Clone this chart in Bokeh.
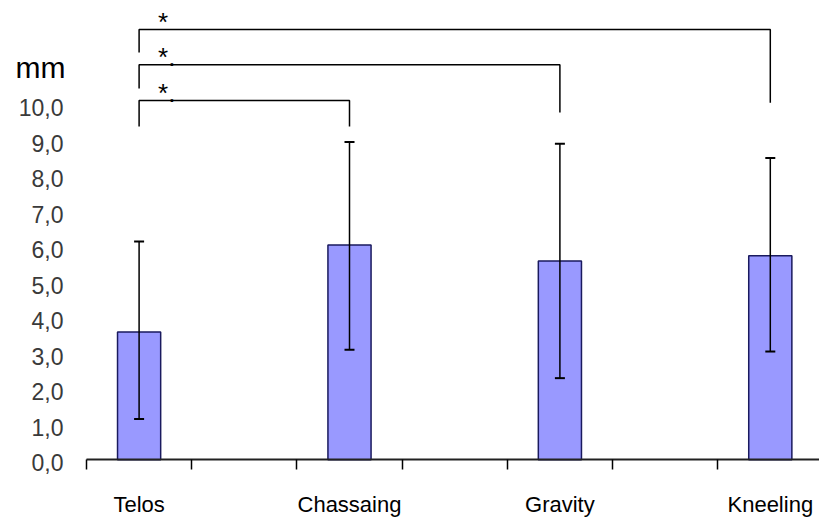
from bokeh.plotting import figure
from bokeh.models import Range1d, FixedTicker, LinearAxis, ColumnDataSource, Whisker, TeeHead
from bokeh.core.properties import value
from bokeh.embed import file_html
from bokeh.resources import INLINE

# ---- data ----
categories = ["Telos", "Chassaing", "Gravity", "Kneeling"]
means = [3.6, 6.05, 5.6, 5.75]
err_upper = [6.15, 8.95, 8.9, 8.5]
err_lower = [1.15, 3.1, 2.3, 3.05]

y_ticks = [0, 1, 2, 3, 4, 5, 6, 7, 8, 9, 10]
y_tick_labels = ["0,0", "1,0", "2,0", "3,0", "4,0", "5,0", "6,0", "7,0", "8,0", "9,0", "10,0"]

bracket_from = [0, 0, 0]
bracket_to = [3, 2, 1]
bracket_top = [12.12, 11.13, 10.12]
bracket_left_end = [11.47, 10.46, 9.39]
bracket_right_end = [10.06, 9.78, 9.39]
bracket_marks = ["*", "*.", "*."]
unit_label = "mm"
unit_label_y = 11.05

FONT = "Liberation Sans"

# ---- layout geometry (pixels) ----
W, H = 819, 523
AXIS_LEFT_PX = 86          # where the category axis starts
PX_PER_SLOT = 105.2
ZERO_PX = 459.3            # vertical position of value 0
PX_PER_UNIT = 35.5

# slot layout: each category occupies every other slot
xs = [2 * i for i in range(len(categories))]
slot_edges = [k - 0.5 for k in range(2 * len(categories))]
x_start = -0.5 - AXIS_LEFT_PX / PX_PER_SLOT
x_end = x_start + W / PX_PER_SLOT
y_end = ZERO_PX / PX_PER_UNIT
y_start = y_end - H / PX_PER_UNIT

p = figure(width=W, height=H,
           x_range=Range1d(x_start, x_end), y_range=Range1d(y_start, y_end),
           x_axis_type=None, y_axis_type=None,
           output_backend="svg", toolbar_location=None,
           min_border_left=0, min_border_right=0,
           min_border_top=0, min_border_bottom=0)
p.outline_line_color = None
p.grid.visible = False
p.background_fill_color = "white"
p.border_fill_color = "white"

# bars
src = ColumnDataSource(dict(x=xs, top=means, upper=err_upper, lower=err_lower))
p.vbar(x="x", top="top", bottom=0, width=0.41, source=src,
       fill_color="#9999FF", line_color="#1a1a5e", line_width=1.5)

# error bars (drawn over the bars)
w = Whisker(base="x", upper="upper", lower="lower", source=src,
            line_color="black", line_width=1.5, level="overlay",
            upper_head=TeeHead(size=10, line_color="black", line_width=2),
            lower_head=TeeHead(size=10, line_color="black", line_width=2))
p.add_layout(w)

# significance brackets
bxs, bys = [], []
for f, t, top, le, re in zip(bracket_from, bracket_to, bracket_top, bracket_left_end, bracket_right_end):
    bxs.append([xs[f], xs[f], xs[t], xs[t]])
    bys.append([le, top, top, re])
p.multi_line(xs=bxs, ys=bys, line_color="black", line_width=1.5)

p.text(x=[xs[f] + 0.18 for f in bracket_from], y=[t + 0.22 for t in bracket_top],
       text=bracket_marks, text_font=value(FONT), text_font_size="26px",
       text_baseline="alphabetic", text_align="left", text_color="black")

# value axis labels (no axis line, no ticks in the original)
label_x = -0.5 - 23 / PX_PER_SLOT
p.text(x=[label_x] * len(y_ticks), y=y_ticks, text=y_tick_labels,
       text_font=value(FONT), text_font_size="23px", text_color="#3a3a3a",
       text_align="right", text_baseline="middle", y_offset=3)

# unit label
p.text(x=[-0.5 - 71 / PX_PER_SLOT], y=[unit_label_y], text=[unit_label],
       text_font=value(FONT), text_font_size="30px", text_color="black",
       text_align="left", text_baseline="middle")

# category axis, pinned at value 0
xax = LinearAxis(ticker=FixedTicker(ticks=xs, minor_ticks=slot_edges),
                 major_label_overrides={x: c for x, c in zip(xs, categories)},
                 bounds=(-0.5, 6.5), fixed_location=0)
xax.axis_line_color = "#222222"
xax.axis_line_width = 2
xax.major_tick_in = 0
xax.major_tick_out = 0
xax.major_tick_line_color = None
xax.minor_tick_in = 0
xax.minor_tick_out = 10
xax.minor_tick_line_color = "black"
xax.minor_tick_line_width = 1.5
xax.major_label_standoff = 22
xax.major_label_text_font = FONT
xax.major_label_text_font_size = "22px"
xax.major_label_text_color = "black"
p.add_layout(xax, "below")

open("out.html", "w").write(file_html(p, INLINE))
